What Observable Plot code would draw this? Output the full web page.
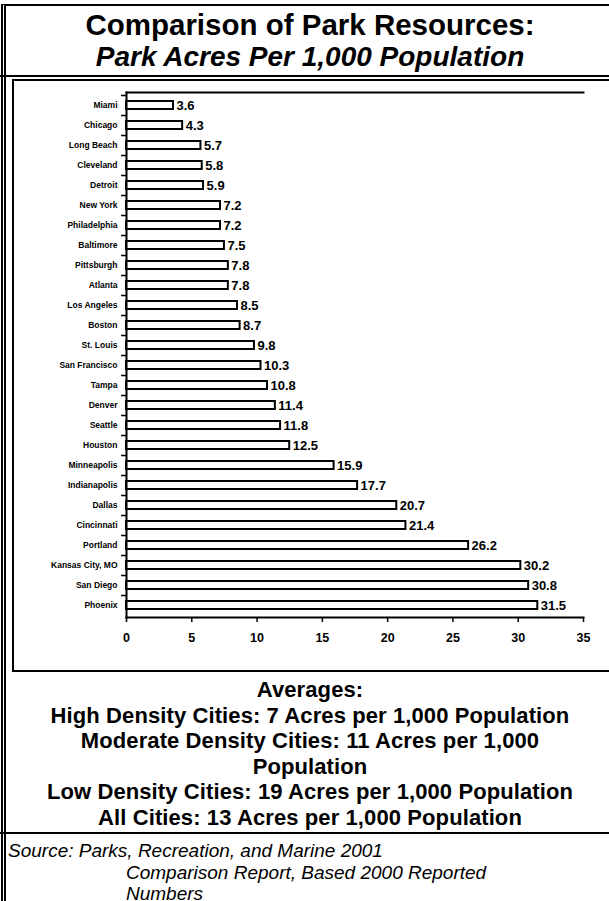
<!DOCTYPE html>
<html><head><meta charset="utf-8">
<script src="https://cdn.jsdelivr.net/npm/d3@7"></script>
<script src="https://cdn.jsdelivr.net/npm/@observablehq/plot@0.6"></script>
<style>
body{margin:0;background:#fff;}
#page{position:relative;width:609px;height:901px;overflow:hidden;font-family:"Liberation Sans",Arial,Helvetica,sans-serif;color:#000;background:#fff;}
.hl{position:absolute;left:0;width:700px;height:0;border-top:2px solid #000;}
#outer{position:absolute;left:1px;top:4px;width:700px;height:1000px;border-top:2px solid #000;border-left:5px double #000;}
#title{position:absolute;left:0;top:9px;width:620px;text-align:center;font-weight:bold;font-size:29.5px;line-height:31px;}
#title i{font-size:28px;}
#frame{position:absolute;left:12px;top:79px;width:700px;height:589px;border:2px solid #000;}
#chart{position:absolute;left:0;top:80px;}
#avg{position:absolute;left:0;top:677px;width:620px;text-align:center;font-weight:bold;font-size:22px;line-height:25.5px;letter-spacing:0.1px;}
#src{position:absolute;left:8px;top:840px;font-style:italic;font-size:19px;line-height:21.5px;}
#src .ind{padding-left:118px;}
</style>
</head><body>
<div id="page">
  <div id="outer"></div>
  <div id="title">Comparison of Park Resources:<br><i>Park Acres Per 1,000 Population</i></div>
  <div class="hl" style="top:75px"></div>
  <div id="frame"></div>
  <div id="chart"></div>
  <div id="avg">Averages:<br>High Density Cities: 7 Acres per 1,000 Population<br>Moderate Density Cities: 11 Acres per 1,000<br>Population<br>Low Density Cities: 19 Acres per 1,000 Population<br>All Cities: 13 Acres per 1,000 Population</div>
  <div class="hl" style="top:832px"></div>
  <div id="src">Source: Parks, Recreation, and Marine 2001<br><span class="ind">Comparison Report, Based 2000 Reported</span><br><span class="ind">Numbers</span></div>
</div>
<script>
const cities = ["Miami","Chicago","Long Beach","Cleveland","Detroit","New York","Philadelphia","Baltimore","Pittsburgh","Atlanta","Los Angeles","Boston","St. Louis","San Francisco","Tampa","Denver","Seattle","Houston","Minneapolis","Indianapolis","Dallas","Cincinnati","Portland","Kansas City, MO","San Diego","Phoenix"];
const acres = [3.6,4.3,5.7,5.8,5.9,7.2,7.2,7.5,7.8,7.8,8.5,8.7,9.8,10.3,10.8,11.4,11.8,12.5,15.9,17.7,20.7,21.4,26.2,30.2,30.8,31.5];
const xTicks = [0,5,10,15,20,25,30,35];

const data = cities.map((c, i) => ({city: c, value: acres[i]}));

const chart = Plot.plot({
  width: 609,
  height: 590,
  marginLeft: 126,
  marginRight: 26,
  marginTop: 12,
  marginBottom: 53,
  style: {fontFamily: "'Liberation Sans', Arial, sans-serif", color: "#000", background: "transparent", overflow: "visible"},
  x: {domain: [0, 35], ticks: xTicks, label: null},
  y: {domain: cities, padding: 0, label: null},
  marks: [
    Plot.barX(data, {x: "value", y: "city", fill: "white", stroke: "black", strokeWidth: 2, insetTop: 6, insetBottom: 6}),
    Plot.text(data, {y: "city", text: "city", frameAnchor: "left", textAnchor: "end", dx: -9, fontSize: 8.5, fontWeight: "bold"}),
    Plot.text(data, {x: "value", y: "city", text: d => d.value.toFixed(1), textAnchor: "start", dx: 3, fontSize: 13, fontWeight: "bold"}),
    Plot.axisY({tickSize: 5, tickFormat: () => "", dy: -10, strokeWidth: 1.5, label: null}),
    Plot.axisX({ticks: xTicks, tickSize: 5, tickPadding: 11, fontSize: 12.5, fontWeight: "bold", strokeWidth: 1.5, label: null}),
    Plot.frame({anchor: "left", strokeWidth: 2}),
    Plot.frame({anchor: "bottom", strokeWidth: 2}),
    Plot.frame({anchor: "top", strokeWidth: 2})
  ]
});
document.getElementById("chart").appendChild(chart);
</script>
</body></html>
